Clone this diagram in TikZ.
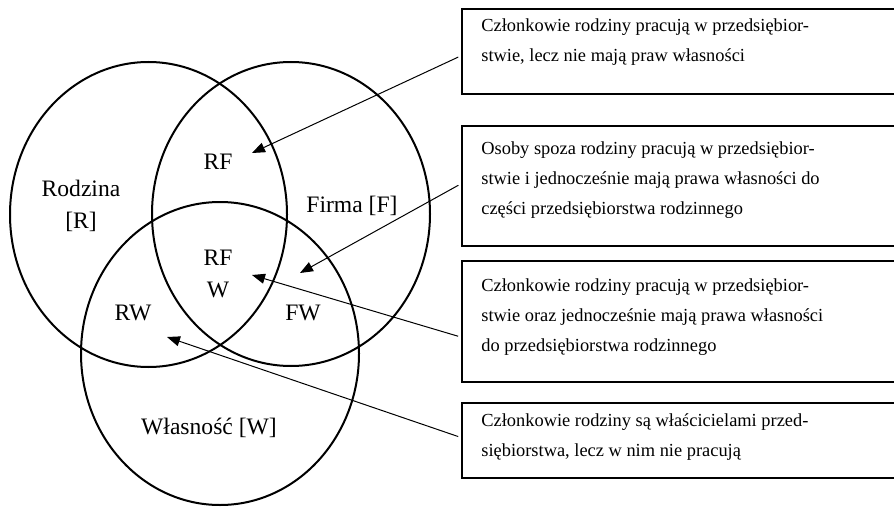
\documentclass[tikz,border=0pt]{standalone}
\usepackage{fontspec}
\setmainfont{Liberation Serif}
\usetikzlibrary{positioning,arrows.meta}

\begin{document}
\begin{tikzpicture}[x=0.5pt,y=-0.5pt,
      zbior/.style={line width=1pt},
      etykieta/.style={align=center,inner sep=0pt,font=\fontsize{11.8}{16}\selectfont},
      ramka/.style={draw,line width=0.8pt,anchor=north west,minimum width=230pt},
      opis/.style={align=left,inner sep=0pt,font=\fontsize{9.2}{15}\selectfont},
      strzalka/.style={-{Triangle[length=6.5pt,width=5pt]},line width=0.5pt,shorten <=1.5pt}]
    \useasboundingbox (0,0) rectangle (894,508);
    % zbiory
    \draw[zbior] (148.5,214.5) ellipse [x radius=138.5,y radius=152.5];
    \draw[zbior] (291,214) ellipse [x radius=139,y radius=152];
    \draw[zbior] (220,353.5) ellipse [x radius=139,y radius=151.5];
    \node[etykieta] (r) at (81,206) {Rodzina\\{}[R]};
    \node[etykieta] (rf) at (218,162) {RF};
    \node[etykieta] (f) at (352,206) {Firma [F]};
    \node[etykieta] (rfw) at (218,274) {RF\\W};
    \node[etykieta] (rw) at (133,313) {RW};
    \node[etykieta] (fw) at (303,313) {FW};
    \node[etykieta] (w) at (209,428) {Własność [W]};
    % ramki z opisami
    \node[ramka,minimum height=42.5pt] (b1) at (461,8) {};
    \node[ramka,minimum height=60pt] (b2) at (461,125) {};
    \node[ramka,minimum height=60.5pt] (b3) at (461,260) {};
    \node[ramka,minimum height=37.5pt] (b4) at (461,402) {};
    \node[opis,below right=5.3pt and 10pt of b1.north west] (o1) {Członkowie rodziny pracują w przedsiębior-\\stwie, lecz nie mają praw własności};
    \node[opis,below right=8.3pt and 10pt of b2.north west] (o2) {Osoby spoza rodziny pracują w przedsiębior-\\stwie i jednocześnie mają prawa własności do\\części przedsiębiorstwa rodzinnego};
    \node[opis,below right=9.3pt and 10pt of b3.north west] (o3) {Członkowie rodziny pracują w przedsiębior-\\stwie oraz jednocześnie mają prawa własności\\do przedsiębiorstwa rodzinnego};
    \node[opis,below right=5.6pt and 10pt of b4.north west] (o4) {Członkowie rodziny są właścicielami przed-\\siębiorstwa, lecz w nim nie pracują};
    % strzałki
    \coordinate (pRF) at (252,153);
    \coordinate (pFW) at (300,273);
    \coordinate (pRFW) at (252,275);
    \coordinate (pRW) at (167,337);
    \draw[strzalka] ([yshift=-2.25pt]b1.west) -- (pRF);
    \draw[strzalka] ([yshift=1pt]b2.west) -- (pFW);
    \draw[strzalka] ([yshift=-7.9pt]b3.west) -- (pRFW);
    \draw[strzalka] ([yshift=1.4pt]b4.west) -- (pRW);
  \end{tikzpicture}
\end{document}
